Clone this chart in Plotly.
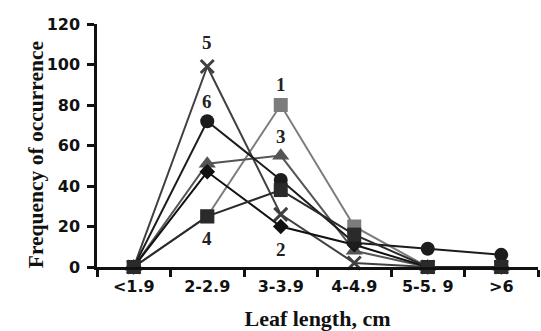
import plotly.graph_objects as go

categories = ["<1.9", "2-2.9", "3-3.9", "4-4.9", "5-5. 9", ">6"]
s1 = [0, 25, 80, 20, 0, 0]
s2 = [0, 47, 20, 11, 0, 0]
s3 = [0, 51, 55, 8, 0, 0]
s4 = [0, 25, 38, 16, 0, 0]
s5 = [0, 99, 26, 2, 0, 0]
s6 = [0, 72, 43, 12, 9, 6]
y_ticks = [0, 20, 40, 60, 80, 100, 120]

series = [
    ("1", s1, "square", 14, "#7c7c7c"),
    ("3", s3, "triangle-up", 15, "#555555"),
    ("5", s5, "x-thin", 13, "#404040"),
    ("2", s2, "diamond", 12, "#111111"),
    ("6", s6, "circle", 14, "#1c1c1c"),
    ("4", s4, "square", 14, "#2a2a2a"),
]

fig = go.Figure()
for name, vals, sym, size, col in series:
    fig.add_trace(go.Scatter(
        x=categories, y=vals, mode="lines+markers", name=name,
        line=dict(color=col, width=2),
        marker=dict(symbol=sym, size=size, color=col,
                    line=dict(color=col, width=3 if sym == "x-thin" else 0)),
        showlegend=False, cliponaxis=False,
    ))

# series number labels: (label, series, category index, pixel shift)
labels = [("5", s5, 1, 24), ("6", s6, 1, 20), ("1", s1, 2, 21),
          ("3", s3, 2, 19), ("4", s4, 1, -22), ("2", s2, 2, -23)]
for txt, vals, i, dy in labels:
    fig.add_annotation(x=categories[i], y=vals[i], text="<b>%s</b>" % txt,
                       showarrow=False, yshift=dy,
                       font=dict(family="Liberation Serif", size=19, color="#222"))

# y-axis title as annotation for precise placement
fig.add_annotation(xref="paper", yref="paper", x=-0.17, y=0.46,
                   text="Frequency of occurrence", textangle=-90, showarrow=False,
                   font=dict(family="Liberation Serif", size=21.5, color="#111", weight="bold"))

fig.update_layout(
    width=541, height=331,
    margin=dict(l=97, r=3, t=24, b=64),
    plot_bgcolor="white", paper_bgcolor="white",
    font=dict(family="DejaVu Sans", color="#111"),
)
fig.update_xaxes(
    type="category", range=[-0.5, 5.5],
    showline=True, linecolor="#111", linewidth=2.5,
    ticks="outside", tickson="boundaries", ticklen=7, tickwidth=2.5, tickcolor="#111",
    showgrid=False,
    tickfont=dict(family="DejaVu Sans", size=16, color="#111", weight="bold"),
    ticklabelstandoff=3,
    title=dict(text="Leaf length, cm", standoff=16,
               font=dict(family="Liberation Serif", size=22, color="#111", weight="bold")),
)
fig.update_yaxes(
    range=[0, 120], tickvals=y_ticks,
    showline=True, linecolor="#111", linewidth=2.5,
    ticks="outside", ticklen=7, tickwidth=2.5, tickcolor="#111",
    showgrid=False, zeroline=False,
    tickfont=dict(family="DejaVu Sans", size=16, color="#111", weight="bold"),
    ticklabelstandoff=4,
)

fig.write_html("out.html")
